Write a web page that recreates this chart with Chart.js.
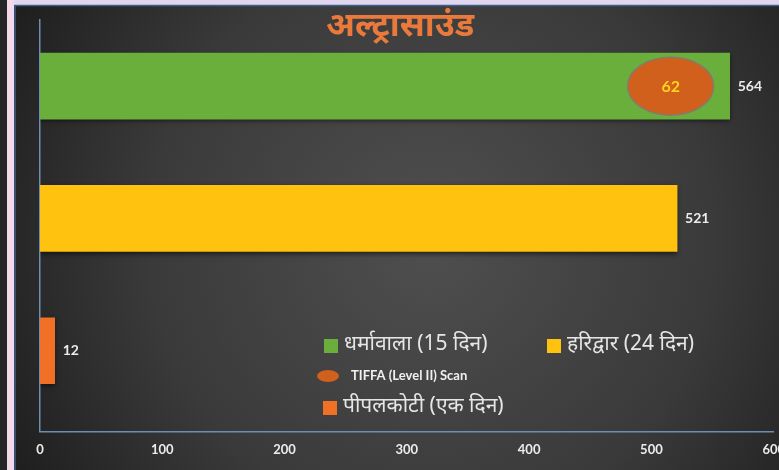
<!DOCTYPE html>
<html>
<head>
<meta charset="utf-8">
<script src="https://cdn.jsdelivr.net/npm/chart.js@4"></script>
<style>
html, body { margin: 0; padding: 0; background: #262626; overflow: hidden; }
canvas { display: block; }
</style>
</head>
<body>
<canvas id="grafico" width="796" height="470"></canvas>
<script>
// dados do gráfico
const titulo = 'अल्ट्रासाउंड';
const locais = ['धर्मावाला (15 दिन)', 'हरिद्वार (24 दिन)', 'पीपलकोटी (एक दिन)'];
const ultrasound = [564, 521, 12];
const coresBarras = ['#6aae3c', '#ffc20e', '#f07125'];
const tiffaLabel = 'TIFFA (Level II) Scan';
const tiffaValores = [62]; // só no primeiro local
const ticksX = [0, 100, 200, 300, 400, 500, 600];

const corEixo = '#6f8db3';
const corTexto = '#ececec';
const corElipse = '#d1601c';

// fundo escuro com moldura rosa do slide
const fundo = {
    id: 'fundo',
    beforeDraw(chart) {
        const ctx = chart.ctx;
        ctx.save();
        ctx.fillStyle = '#262626';
        ctx.fillRect(0, 0, chart.width, chart.height);
        ctx.fillStyle = '#f3d9ea';
        ctx.fillRect(7, 0, 7, chart.height);
        ctx.fillStyle = '#e2d6ee';
        ctx.fillRect(14, 0, chart.width - 14, 5);
        const g = ctx.createRadialGradient(430, 240, 0, 430, 240, 470);
        g.addColorStop(0, '#4f4f4f');
        g.addColorStop(0.6, '#3a3a3a');
        g.addColorStop(1, '#1f1f1f');
        ctx.fillStyle = g;
        ctx.fillRect(14, 5, chart.width - 14, chart.height - 5);
        ctx.strokeStyle = '#3f5f8c';
        ctx.lineWidth = 1.5;
        ctx.beginPath();
        ctx.moveTo(15, chart.height);
        ctx.lineTo(15, 5.5);
        ctx.lineTo(chart.width, 5.5);
        ctx.stroke();
        ctx.restore();
    }
};

// sombra nas barras
const sombra = {
    id: 'sombra',
    beforeDatasetsDraw(chart) {
        const ctx = chart.ctx;
        ctx.save();
        ctx.shadowColor = 'rgba(0,0,0,0.6)';
        ctx.shadowBlur = 5;
        ctx.shadowOffsetY = 2;
    },
    afterDatasetsDraw(chart) {
        chart.ctx.restore();
    }
};

// rótulos de valor, elipse do TIFFA, título e legenda
const extras = {
    id: 'extras',
    afterDraw(chart) {
        const ctx = chart.ctx;
        const barras = chart.getDatasetMeta(0).data;
        ctx.save();

        // valores ao lado das barras
        ctx.font = 'bold 14px Lato';
        ctx.fillStyle = corTexto;
        ctx.textAlign = 'left';
        ctx.textBaseline = 'middle';
        barras.forEach((b, i) => {
            ctx.fillText(ultrasound[i], b.x + 8, b.y);
        });

        // elipse do TIFFA dentro da primeira barra
        const b0 = barras[0];
        const cx = b0.x - 59, cy = b0.y;
        ctx.beginPath();
        ctx.ellipse(cx, cy, 43, 29, 0, 0, Math.PI * 2);
        ctx.fillStyle = corElipse;
        ctx.fill();
        ctx.strokeStyle = '#857a6c';
        ctx.lineWidth = 1.5;
        ctx.stroke();
        ctx.font = 'bold 16px Lato';
        ctx.fillStyle = '#ffd21f';
        ctx.textAlign = 'center';
        ctx.fillText(tiffaValores[0], cx, cy + 1);

        // título
        ctx.font = 'bold 34px "Noto Sans", sans-serif';
        ctx.fillStyle = '#e97a3b';
        ctx.fillText(titulo, 400, 26);

        // legenda
        const itens = [
            { tipo: 'q', cor: coresBarras[0], texto: locais[0], x: 324, y: 344 },
            { tipo: 'q', cor: coresBarras[1], texto: locais[1], x: 547, y: 344 },
            { tipo: 'e', cor: corElipse, texto: tiffaLabel, x: 318, y: 376 },
            { tipo: 'q', cor: coresBarras[2], texto: locais[2], x: 323, y: 406 }
        ];
        ctx.textAlign = 'left';
        itens.forEach(it => {
            ctx.fillStyle = it.cor;
            if (it.tipo === 'q') {
                ctx.fillRect(it.x, it.y - 5, 14, 14);
                ctx.font = '21px "Noto Sans", sans-serif';
                ctx.fillStyle = '#e6e6e6';
                ctx.fillText(it.texto, it.x + 20, it.y);
            } else {
                ctx.beginPath();
                ctx.ellipse(it.x + 10, it.y, 11, 6, 0, 0, Math.PI * 2);
                ctx.fill();
                ctx.font = 'bold 13px Lato';
                ctx.fillStyle = '#f0f0f0';
                ctx.fillText(it.texto, it.x + 33, it.y);
            }
        });
        ctx.restore();
    }
};

const ctx = document.getElementById('grafico').getContext('2d');
new Chart(ctx, {
    type: 'bar',
    data: {
        datasets: [{
            label: 'अल्ट्रासाउंड',
            data: ultrasound.map((v, i) => ({ x: v, y: i })),
            backgroundColor: coresBarras,
            borderWidth: 0,
            barThickness: 66
        }]
    },
    options: {
        indexAxis: 'y',
        responsive: false,
        devicePixelRatio: 1,
        animation: false,
        layout: { padding: { left: 40, top: 20, right: 9, bottom: 1 } },
        plugins: {
            legend: { display: false },
            tooltip: { enabled: false }
        },
        scales: {
            x: {
                type: 'linear',
                min: ticksX[0],
                max: ticksX[ticksX.length - 1],
                afterBuildTicks: s => { s.ticks = ticksX.map(v => ({ value: v })); },
                grid: { display: false, drawTicks: false },
                border: { display: true, color: corEixo, width: 1.5 },
                ticks: { color: corTexto, font: { family: 'Lato', weight: 'bold', size: 13 }, padding: 11 }
            },
            y: {
                type: 'linear',
                reverse: true,
                offset: false,
                min: -0.5,
                max: 2.61,
                grid: { display: false, drawTicks: false },
                border: { display: true, color: corEixo, width: 1.5 },
                ticks: { display: false }
            }
        }
    },
    plugins: [fundo, sombra, extras]
});
</script>
</body>
</html>
